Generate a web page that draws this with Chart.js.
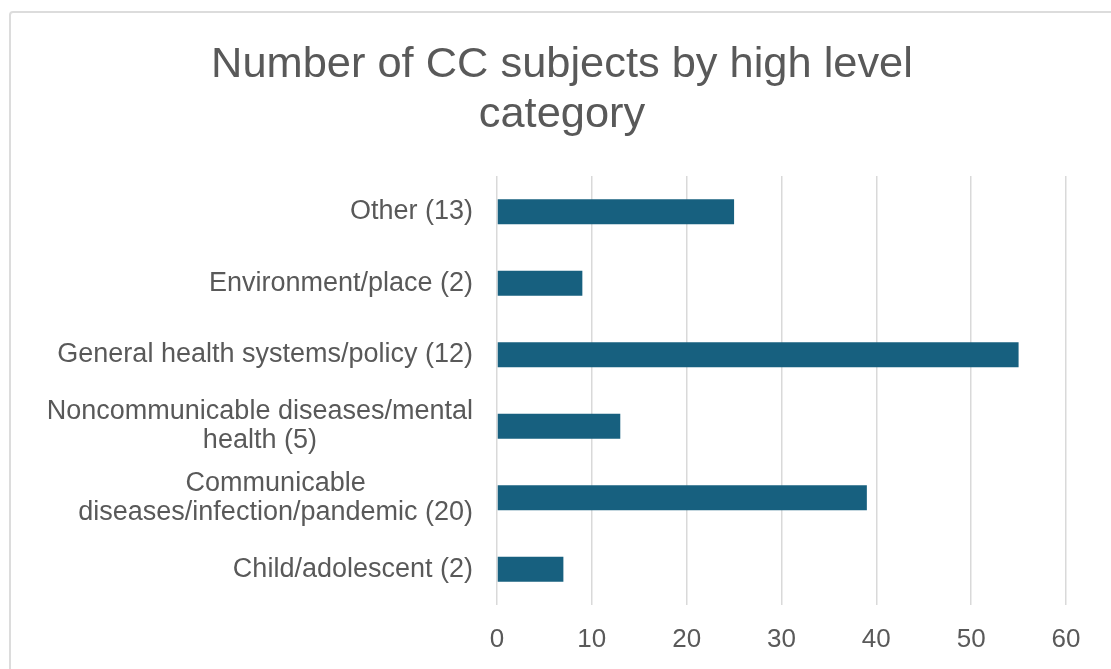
<!DOCTYPE html>
<html>
<head>
<meta charset="utf-8">
<script src="https://cdn.jsdelivr.net/npm/chart.js@4.4.1/dist/chart.umd.min.js"></script>
<style>
  html, body { margin: 0; padding: 0; background: #fff; overflow: hidden; }
  #wrap { position: relative; width: 1111px; height: 669px; }
  #frame { position: absolute; left: 9px; top: 11px; width: 1120px; height: 700px;
           border: 2px solid #dcdcdc; border-radius: 4px; box-sizing: border-box; }
  canvas { position: absolute; left: 0; top: 0; }
</style>
</head>
<body>
<div id="wrap">
  <div id="frame"></div>
  <canvas id="c" width="1111" height="669"></canvas>
</div>
<script>
const titleLines = ["Number of CC subjects by high level", "category"];
const categories = [
  ["Other (13)"],
  ["Environment/place (2)"],
  ["General health systems/policy (12)"],
  ["Noncommunicable diseases/mental", "health (5)"],
  ["Communicable", "diseases/infection/pandemic (20)"],
  ["Child/adolescent (2)"]
];
const values = [25, 9, 55, 13, 39, 7];
const xMin = 0, xMax = 60, xStep = 10;

const textColor = '#595959';
const fontFamily = '"Liberation Sans", Arial, Helvetica, sans-serif';
const labelFontSize = 27;
const labelLineHeight = 29;
const labelPad = 24;

const centeredYLabels = {
  id: 'centeredYLabels',
  afterDraw(chart) {
    const scale = chart.scales.y;
    const ctx = chart.ctx;
    ctx.save();
    ctx.font = labelFontSize + 'px ' + fontFamily;
    ctx.fillStyle = textColor;
    ctx.textAlign = 'center';
    ctx.textBaseline = 'middle';
    const labels = scale.getLabels();
    labels.forEach((lab, i) => {
      const lines = Array.isArray(lab) ? lab : [lab];
      const widths = lines.map(l => ctx.measureText(l).width);
      const blockW = Math.max(...widths);
      const right = scale.right - labelPad;
      const cx = right - blockW / 2;
      const cy = scale.getPixelForTick(i);
      lines.forEach((l, j) => {
        ctx.fillText(l, cx, cy + (j - (lines.length - 1) / 2) * labelLineHeight);
      });
    });
    ctx.restore();
  }
};

new Chart(document.getElementById('c'), {
  type: 'bar',
  data: {
    labels: categories,
    datasets: [{
      data: values,
      backgroundColor: '#17607f',
      borderWidth: 0,
      barPercentage: 0.35,
      categoryPercentage: 1.0
    }]
  },
  options: {
    indexAxis: 'y',
    responsive: false,
    animation: false,
    layout: { padding: { left: 58, right: 45, top: 0, bottom: 0 } },
    plugins: {
      legend: { display: false },
      tooltip: { enabled: false },
      title: {
        display: true,
        text: titleLines,
        color: textColor,
        font: { family: fontFamily, size: 43.4, weight: 'normal', lineHeight: 50 / 43.4 },
        padding: { top: 40, bottom: 36 }
      }
    },
    scales: {
      x: {
        type: 'linear',
        min: xMin,
        max: xMax,
        ticks: {
          stepSize: xStep,
          color: textColor,
          padding: 19,
          font: { family: fontFamily, size: 26 }
        },
        grid: { color: '#d9d9d9', lineWidth: 1.5, drawTicks: false },
        border: { display: false },
        afterFit(scale) { scale.height = 669 - 605; }
      },
      y: {
        ticks: {
          color: 'rgba(0,0,0,0)',
          font: { family: fontFamily, size: labelFontSize }
        },
        grid: { display: false, drawTicks: false },
        border: { display: false },
        afterFit(scale) { scale.width = 497 - 58; }
      }
    }
  },
  plugins: [centeredYLabels]
});
</script>
</body>
</html>
